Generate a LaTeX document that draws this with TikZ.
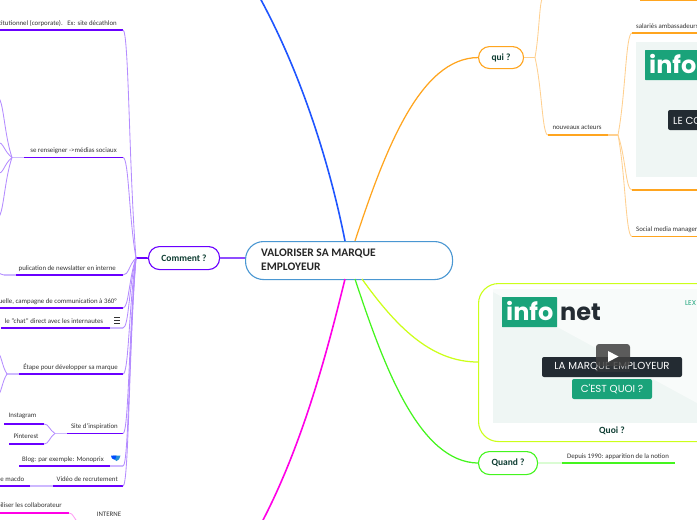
\documentclass[tikz,border=0pt]{standalone}
\usepackage{fontspec}
\setmainfont{Carlito}
\newfontfamily\logofont{Poppins}
\usetikzlibrary{calc}
\definecolor{cpurple}{HTML}{6A00FF}
\definecolor{lpurple}{HTML}{B48CFF}
\definecolor{mpurple}{HTML}{8F4DFF}
\definecolor{fpurple}{HTML}{CDB8FF}
\definecolor{corange}{HTML}{FFA51F}
\definecolor{lorange}{HTML}{FFD08F}
\definecolor{cgreen}{HTML}{44F51E}
\definecolor{lgreen}{HTML}{C6FBBB}
\definecolor{cyellow}{HTML}{CCFF1A}
\definecolor{cmag}{HTML}{FF00E6}
\definecolor{lmag}{HTML}{FF9CF4}
\definecolor{cblue}{HTML}{1F55FF}
\definecolor{rootc}{HTML}{4A97D2}
\definecolor{ink}{HTML}{333333}
\definecolor{deep}{HTML}{0E3D32}
\definecolor{igreen}{HTML}{1AA37A}
\definecolor{idark}{HTML}{232B32}
\definecolor{ibg}{HTML}{EFF6F4}
\definecolor{ibgl}{HTML}{F8FBFA}
\tikzset{
  x=1pt,y=-1pt,
  lbl/.style={font=\fontsize{6.85}{8}\selectfont,text=ink,inner sep=0pt},
  main/.style={draw,rounded corners=11pt,fill=white,line width=1.1pt,font=\fontsize{9.5}{11}\selectfont\bfseries,text=deep,inner sep=0pt,align=center},
  rule/.style={line width=1.4pt},
  thin branch/.style={line width=.85pt},
  fade/.style={line width=1.2pt},
  big/.style={line width=1.6pt},
  mid/.style={line width=1.25pt},
  logo/.style={anchor=base west,inner sep=0pt,font=\logofont\fontsize{24}{24}\selectfont\bfseries},
  caption/.style={inner sep=0pt,text=white,font=\logofont\fontsize{10.2}{12}\selectfont}
}
\newcommand{\curvebr}[3]{\draw[thin branch,#1] let \p1=(#2),\p2=(#3) in (#2) .. controls ({\x1+.55*(\x2-\x1)},{\y1+.4*(\y2-\y1)}) and ({\x2+.45*(\x1-\x2)},{\y2}) .. (#3);}
\begin{document}
\begin{tikzpicture}
\useasboundingbox (0,0) rectangle (697,520);
\clip (0,0) rectangle (697,520);
% --- root and main nodes
\node[main,draw=rootc,rounded corners=18pt,minimum width=207pt,minimum height=38pt,anchor=north west] (root) at (245,241) {};
\node[anchor=west,inner sep=0pt,align=left,font=\fontsize{11.5}{14}\selectfont\bfseries,text=black!85] (roottext) at (261,260) {VALORISER SA MARQUE\\EMPLOYEUR};
\node[main,draw=cpurple,minimum width=71pt,minimum height=23pt,anchor=north west] (comment) at (148,246) {Comment ?};
\node[main,draw=corange,minimum width=45pt,minimum height=22pt,anchor=north west] (qui) at (478,46) {qui ?};
\node[main,draw=cgreen,minimum width=59pt,minimum height=23pt,anchor=north west] (quand) at (478,451) {Quand ?};
% --- main connectors
\coordinate (topblue) at (260,-2);
\coordinate (botmag) at (262,522);
\coordinate (rb) at (345,241);
\coordinate (ro) at (355,241);
\coordinate (rm) at (345,279);
\coordinate (rg) at (355,279);
\coordinate (ry) at (362,279);
\draw[big,cblue] (rb) .. controls (335,190) and (310,90) .. (topblue);
\draw[big,cmag] (rm) .. controls (330,340) and (305,440) .. (botmag);
\draw[mid,corange] (ro) .. controls (385,150) and (420,58) .. (qui.west);
\draw[mid,cgreen] (rg) .. controls (385,370) and (420,462) .. (quand.west);
\draw[mid,cyellow] (ry) .. controls (395,325) and (430,362) .. (478,362);
\draw[line width=1.2pt,mpurple] (comment.east) -- (root.west |- comment.east);
% --- left trunk
\coordinate (jl) at (136,258);
\draw[line width=1.6pt,cpurple] (comment.west) -- (jl);
\newcommand{\leftbranch}[5]{%
 \coordinate (#1e) at (123,#2);\coordinate (#1s) at (#3,#2);
 \draw[rule,cpurple] (#1e) -- (#1s);
 \curvebr{lpurple}{jl}{#1e}
 \node[lbl,anchor=base east] (#1t) at (#4,{#2-5}) {#5};}
\leftbranch{a}{30}{-2}{117}{Institutionnel (corporate).\ \ \ Ex: site décathlon}
\leftbranch{b}{157.5}{24}{117}{se renseigner ->médias sociaux}
\leftbranch{c}{275}{16}{116}{pulication de newslatter en interne}
\leftbranch{d}{308}{-2}{117}{actuelle, campagne de communication à 360°}
\leftbranch{f}{374}{19}{118}{Étape pour développer sa marque}
\leftbranch{g}{433.5}{67}{118}{Site d'inspiration}
\leftbranch{i}{486}{53}{118}{Vidéo de recrutement}
% branches whose rule ends before the trunk
\coordinate (e1) at (110,328);\coordinate (e1s) at (1,328);\coordinate (e1e) at (123,328);
\draw[rule,cpurple] (e1s) -- (e1);\draw[fade,fpurple] (e1) -- (e1e);\curvebr{lpurple}{jl}{e1e}
\node[lbl,anchor=base] (chat) at (54,{323}) {le "chat" direct avec les internautes};
\coordinate (h1) at (110,466);\coordinate (h1s) at (19,466);\coordinate (h1e) at (123,466);
\draw[rule,cpurple] (h1s) -- (h1);\draw[fade,fpurple] (h1) -- (h1e);\curvebr{lpurple}{jl}{h1e}
\node[lbl,anchor=base] (blog) at (63,461) {Blog: par exemple: Monoprix};
% icons
\draw[line width=.7pt,ink] (114,317.5) -- (120,317.5) (114,320.2) -- (120,320.2) (114,323) -- (120,323);
\fill[cyan!70!blue!90] (113,455.5) -- (120.5,455.5) .. controls (120.5,458.5) and (118,461) .. (116.5,461) .. controls (115,461) and (113,458.5) .. (113,455.5);
\fill[blue!70!cyan] (111,455.5) -- (116.5,455.5) .. controls (116.5,458) and (115,459.5) .. (114,459.5) .. controls (112.5,459.5) and (111,458) .. (111,455.5);
% se renseigner sub branches
\coordinate (bj) at (12,157.5);
\draw[fade,fpurple] (bj) -- (bs);
\coordinate (sbp) at (-3,97);\coordinate (sbq) at (-3,142);\coordinate (sbr) at (-3,174);\coordinate (sbs) at (-3,218);
\curvebr{lpurple}{bj}{sbp}\curvebr{lpurple}{bj}{sbq}\curvebr{lpurple}{bj}{sbr}\curvebr{lpurple}{bj}{sbs}
% newsletter and Étape sub branches
\coordinate (cj) at (4,275);\coordinate (cx) at (-3,273);
\draw[fade,fpurple] (cj) -- (cs);\curvebr{lpurple}{cj}{cx}
\coordinate (fj) at (7,374);\coordinate (fu) at (-3,353);\coordinate (fd) at (-3,395);
\draw[fade,fpurple] (fj) -- (fs);\curvebr{lpurple}{fj}{fu}\curvebr{lpurple}{fj}{fd}
% Site d'inspiration
\coordinate (gj) at (55,433.5);
\draw[fade,fpurple] (gj) -- (gs);
\coordinate (ig) at (44,424);\coordinate (igs) at (4,424);
\coordinate (pi) at (44,444);\coordinate (pis) at (9,444);
\draw[rule,cpurple] (igs) -- (ig);\draw[rule,cpurple] (pis) -- (pi);
\curvebr{lpurple}{gj}{ig}\curvebr{lpurple}{gj}{pi}
\node[lbl] (insta) at (22.5,416) {Instagram};
\node[lbl] (pint) at (26,436) {Pinterest};
% Vidéo / macdo
\coordinate (m1) at (30,486);\coordinate (m0) at (-2,486);
\draw[fade,fpurple] (is) -- (m1);\draw[rule,cpurple] (m1) -- (m0);
\node[lbl,anchor=base east] (macdo) at (24.5,481.5) {de macdo};
% magenta
\coordinate (n1) at (69,513);\coordinate (n0) at (-2,513);\coordinate (n2) at (79,523);
\draw[rule,cmag] (n0) -- (n1);\curvebr{lmag}{n2}{n1}
\node[lbl,anchor=base east] (coll) at (62,507.5) {Mobiliser les collaborateur};
\node[lbl] (interne) at (109,514) {INTERNE};
% --- qui
\coordinate (qj) at (535,57.5);
\draw[thin branch,lorange] (qui.east) -- (qj);
\coordinate (qtop) at (543,-2);
\curvebr{lorange}{qj}{qtop}
\coordinate (nl) at (548,135);\coordinate (nm) at (608,135);\coordinate (nr) at (618,135);
\curvebr{lorange}{qj}{nl}
\draw[rule,corange] (nl) -- (nm);\draw[fade,lorange] (nm) -- (nr);
\node[lbl] (nouv) at (577,127.5) {nouveaux acteurs};
\coordinate (tl) at (640,0.3);\coordinate (tr) at (699,0.3);
\draw[rule,corange] (tl) -- (tr);
\coordinate (s1) at (632,33);\coordinate (s2) at (632,190);\coordinate (s3) at (632,236.5);
\coordinate (s1r) at (699,33);\coordinate (s2r) at (699,190);\coordinate (s3r) at (699,236.5);
\curvebr{lorange}{nr}{s1}\draw[rule,corange] (s1) -- (s1r);
\curvebr{lorange}{nr}{s2}\draw[rule,corange] (s2) -- (s2r);
\curvebr{lorange}{nr}{s3}\draw[rule,corange] (s3) -- (s3r);
\node[lbl,anchor=base west] (sal) at (636,28) {salariés ambassadeurs};
\node[lbl,anchor=base west] (soc) at (636,231) {Social media manager};
% image top
\fill[ibg] (636,42) rectangle (699,177);
\fill[igreen,rounded corners=.5pt] (645,50) rectangle (699,80);
\node[logo,text=white] (info1) at (649,73) {info};
\fill[idark,rounded corners=2pt] (668,110) rectangle (702,130);
\node[anchor=base west,inner sep=0pt,text=white,font=\logofont\fontsize{10.2}{12}\selectfont] (leco) at (673,124) {LE CO};
% --- Quoi box
\node[main,draw=cyellow,rounded corners=20pt,minimum width=260pt,minimum height=158pt,anchor=north west] (quoi) at (478,283) {};
\fill[ibg] (493,289) rectangle (697,423);
\fill[ibgl] (493,292) -- (493,289) -- (697,289) -- (697,403) -- cycle;
\fill[igreen,rounded corners=.5pt] (502,297) rectangle (557,327);
\node[logo,text=white] (info2) at (506,320) {info};
\node[logo,text=idark] (net) at (560,320) {net};
\node[anchor=base west,inner sep=0pt,text=igreen,font=\logofont\fontsize{7}{8}\selectfont] (lex) at (685,305) {LEX};
\fill[idark,rounded corners=2pt] (542,357) rectangle (682,377);
\node[caption] (lab1) at (612,367) {LA MARQUE EMPLOYEUR};
\fill[igreen,rounded corners=2pt] (572,379) rectangle (652,399);
\node[caption] (lab2) at (612,389) {C'EST QUOI ?};
\fill[black!75,opacity=.85,rounded corners=3pt] (596,344) rectangle (630,366);
\fill[black!75,opacity=.35] (596,366) rectangle (630,372);
\fill[white] (608,351) -- (618.5,356.5) -- (608,362) -- cycle;
\node[inner sep=0pt,text=deep,font=\fontsize{9.5}{11}\selectfont\bfseries] (quoit) at (612,431) {Quoi ?};
% --- Quand
\coordinate (qa) at (562,463);\coordinate (qb) at (675,463);
\draw[fade,lgreen] (quand.east) -- (qa);
\draw[rule,cgreen] (qa) -- (qb);
\node[lbl,anchor=base] (dep) at (618,458) {Depuis 1990: apparition de la notion};
\end{tikzpicture}
\end{document}
